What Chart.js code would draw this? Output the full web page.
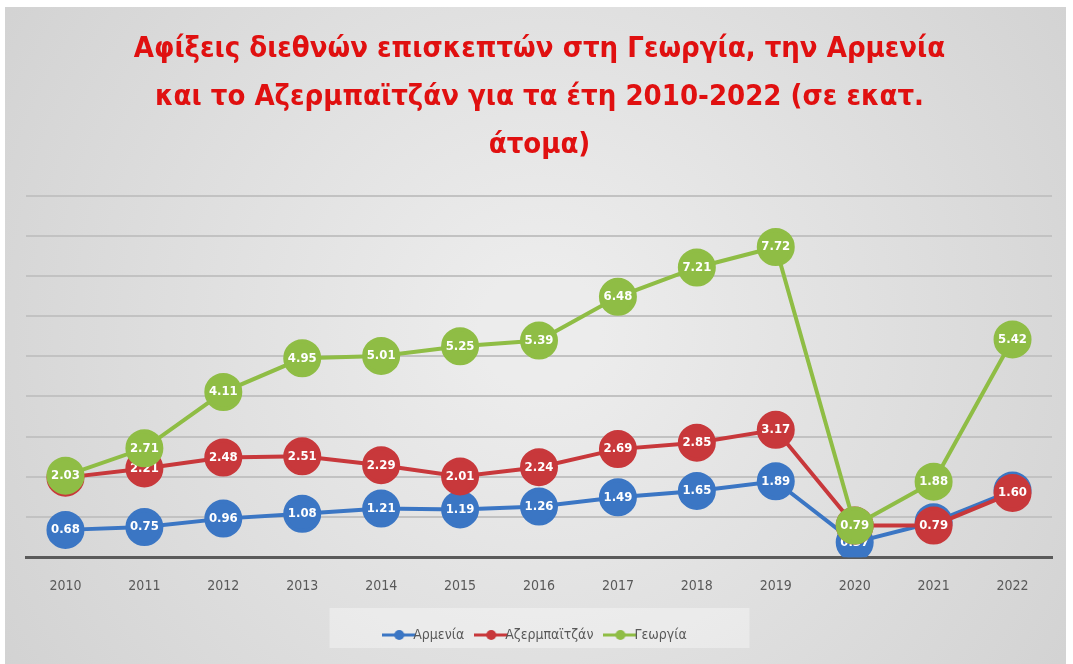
<!DOCTYPE html>
<html lang="el">
<head>
<meta charset="UTF-8">
<title>Αφίξεις διεθνών επισκεπτών</title>
<script src="https://cdn.jsdelivr.net/npm/chart.js"></script>
<style>
  html, body { margin: 0; padding: 0; background: #fff; }
  #wrap { position: relative; width: 1073px; height: 664px; }
</style>
</head>
<body>
<div id="wrap"><canvas id="arrivals"></canvas></div>
<script>
// data (millions of arrivals)
const years = ['2010', '2011', '2012', '2013', '2014', '2015', '2016', '2017', '2018', '2019', '2020', '2021', '2022'];
const armenia = [0.68, 0.75, 0.96, 1.08, 1.21, 1.19, 1.26, 1.49, 1.65, 1.89, 0.37, 0.87, 1.66];
const azerbaijan = [1.98, 2.21, 2.48, 2.51, 2.29, 2.01, 2.24, 2.69, 2.85, 3.17, 0.79, 0.79, 1.60];
const georgia = [2.03, 2.71, 4.11, 4.95, 5.01, 5.25, 5.39, 6.48, 7.21, 7.72, 0.79, 1.88, 5.42];
const seriesNames = ['Αρμενία', 'Αζερμπαϊτζάν', 'Γεωργία'];
const titleLines = ['Αφίξεις διεθνών επισκεπτών στη Γεωργία, την Αρμενία', 'και το Αζερμπαϊτζάν για τα έτη 2010-2022 (σε εκατ.', 'άτομα)'];

const narrow = "'Liberation Sans Narrow', 'DejaVu Sans Condensed', sans-serif";
const colors = ['#3b76c4', '#c8383b', '#8fbd45'];

// little line-with-marker icons for the legend
function legendIcon(color) {
    const c = document.createElement('canvas');
    c.width = 34; c.height = 12;
    const g = c.getContext('2d');
    g.strokeStyle = color; g.lineWidth = 3;
    g.beginPath(); g.moveTo(0, 6); g.lineTo(34, 6); g.stroke();
    g.fillStyle = color;
    g.beginPath(); g.arc(17, 6, 5, 0, Math.PI * 2); g.fill();
    return c;
}

const panelBg = {
    id: 'panelBg',
    beforeDraw(chart) {
        const ctx = chart.ctx;
        ctx.save();
        ctx.fillStyle = '#ffffff';
        ctx.fillRect(0, 0, chart.width, chart.height);
        const grad = ctx.createRadialGradient(540, 330, 60, 540, 330, 640);
        grad.addColorStop(0, '#ececec');
        grad.addColorStop(1, '#d2d2d2');
        ctx.fillStyle = grad;
        ctx.fillRect(5, 7, 1061, 657);
        // legend box
        const lg = chart.legend;
        ctx.fillStyle = 'rgba(255,255,255,0.35)';
        ctx.fillRect(lg.left + (lg.width - 420) / 2, lg.top, 420, 40);
        ctx.restore();
    }
};

const pointLabels = {
    id: 'pointLabels',
    afterDatasetDraw(chart, args) {
        const ctx = chart.ctx;
        const ds = chart.data.datasets[args.index];
        ctx.save();
        ctx.font = 'bold 13px ' + narrow;
        ctx.fillStyle = '#ffffff';
        ctx.textAlign = 'center';
        ctx.textBaseline = 'middle';
        args.meta.data.forEach((pt, i) => {
            ctx.fillText(ds.data[i].toFixed(2), pt.x, pt.y);
        });
        ctx.restore();
    }
};

function makeSet(i, values, order) {
    return {
        label: seriesNames[i],
        data: values,
        borderColor: colors[i],
        backgroundColor: colors[i],
        pointBackgroundColor: colors[i],
        pointBorderColor: colors[i],
        pointRadius: 17,
        pointHoverRadius: 17,
        borderWidth: 4,
        tension: 0,
        order: order
    };
}

new Chart(document.getElementById('arrivals'), {
    type: 'line',
    data: {
        labels: years,
        datasets: [
            makeSet(0, armenia, 3),
            makeSet(1, azerbaijan, 2),
            makeSet(2, georgia, 1)
        ]
    },
    options: {
        responsive: true,
        maintainAspectRatio: false,
        animation: false,
        layout: { padding: { left: 26, right: 20, top: 0, bottom: 12 } },
        plugins: {
            title: {
                display: true,
                text: titleLines,
                color: '#e01010',
                font: { family: narrow, size: 29, weight: 'bold', lineHeight: 1.65 },
                padding: { top: 26, bottom: 26 }
            },
            legend: {
                position: 'bottom',
                sort: (a, b) => a.datasetIndex - b.datasetIndex,
                labels: {
                    usePointStyle: true,
                    generateLabels(chart) {
                        return chart.data.datasets.map((ds, i) => ({
                            text: ds.label,
                            datasetIndex: i,
                            pointStyle: legendIcon(colors[i]),
                            fontColor: '#595959',
                            lineWidth: 0,
                            strokeStyle: colors[i],
                            fillStyle: colors[i]
                        }));
                    },
                    color: '#595959',
                    font: { family: narrow, size: 14 },
                    padding: 20,
                    boxHeight: 12
                }
            },
            tooltip: { enabled: false }
        },
        scales: {
            x: {
                offset: true,
                grid: { display: false },
                border: { display: true, color: '#5a5a5a', width: 3 },
                ticks: { color: '#595959', font: { family: narrow, size: 14 }, padding: 13 }
            },
            y: {
                min: 0,
                max: 9,
                ticks: { display: false, stepSize: 1 },
                border: { display: false },
                grid: { color: '#c2c2c2', lineWidth: 2, drawTicks: false }
            }
        }
    },
    plugins: [panelBg, pointLabels]
});
</script>
</body>
</html>
